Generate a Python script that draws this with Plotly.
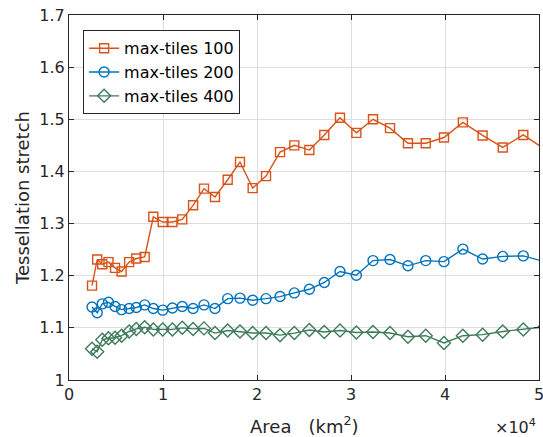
import plotly.graph_objects as go

# Area in km^2
area = [2450, 3000, 3540, 4200, 4900, 5600, 6400, 7160, 8050, 8970, 9970,
        11000, 12050, 13200, 14360, 15530, 16880, 18190, 19540, 20960, 22450,
        23970, 25570, 27160, 28830, 30570, 32340, 34150, 36060, 37950, 39890,
        41900, 44000, 46140, 48330, 50600]

stretch_100 = [1.181, 1.231, 1.222, 1.226, 1.215, 1.208, 1.226, 1.233, 1.236,
               1.313, 1.303, 1.303, 1.308, 1.335, 1.367, 1.351, 1.384, 1.418,
               1.368, 1.391, 1.437, 1.450, 1.441, 1.470, 1.503, 1.474, 1.500,
               1.483, 1.454, 1.454, 1.465, 1.494, 1.469, 1.446, 1.470, 1.443]

stretch_200 = [1.140, 1.129, 1.146, 1.149, 1.141, 1.135, 1.137, 1.139, 1.144,
               1.137, 1.134, 1.138, 1.141, 1.137, 1.144, 1.137, 1.156, 1.157,
               1.153, 1.156, 1.160, 1.167, 1.174, 1.187, 1.208, 1.201, 1.229,
               1.231, 1.219, 1.229, 1.227, 1.251, 1.232, 1.237, 1.238, 1.227]

stretch_400 = [1.060, 1.054, 1.077, 1.080, 1.081, 1.085, 1.093, 1.098, 1.101,
               1.097, 1.097, 1.097, 1.100, 1.098, 1.099, 1.090, 1.095, 1.093,
               1.090, 1.090, 1.086, 1.090, 1.096, 1.092, 1.095, 1.091, 1.092,
               1.090, 1.083, 1.085, 1.071, 1.085, 1.087, 1.093, 1.097, 1.102]

series_names = ["max-tiles 100", "max-tiles 200", "max-tiles 400"]
x_tickvals = [0, 10000, 20000, 30000, 40000, 50000]
x_ticktext = ["0", "1", "2", "3", "4", "5"]
y_tickvals = [1, 1.1, 1.2, 1.3, 1.4, 1.5, 1.6, 1.7]
y_ticktext = ["1", "1.1", "1.2", "1.3", "1.4", "1.5", "1.6", "1.7"]

colors = ["#D95319", "#0072BD", "#3E7B5B"]
symbols = ["square-open", "circle-open", "diamond-open"]
sizes = [9, 10, 10]

fig = go.Figure()
for name, ys, c, s, sz in zip(series_names, [stretch_100, stretch_200, stretch_400], colors, symbols, sizes):
    fig.add_trace(go.Scatter(
        x=area, y=ys, name=name, mode="lines+markers",
        line=dict(color=c, width=1.4),
        marker=dict(symbol=s, size=sz, color=c, line=dict(color=c, width=1.4)),
    ))

axis_common = dict(
    showline=True, linecolor="#262626", linewidth=1, mirror="ticks",
    ticks="inside", ticklen=5, tickcolor="#262626", tickwidth=1,
    showgrid=True, gridcolor="#dedede", gridwidth=1, zeroline=False,
    tickfont=dict(family="DejaVu Sans", size=16, color="#262626"),
    ticklabeloverflow="allow", automargin=False,
)

fig.update_layout(
    width=543, height=437,
    margin=dict(l=69, r=4, t=15, b=57),
    paper_bgcolor="white", plot_bgcolor="white",
    font=dict(family="DejaVu Sans", color="#262626"),
    xaxis=dict(range=[0, 50000], tickvals=x_tickvals, ticktext=x_ticktext,
               **axis_common),
    yaxis=dict(range=[1, 1.7], tickvals=y_tickvals, ticktext=y_ticktext,
               title=dict(text="Tessellation stretch", font=dict(size=18), standoff=5),
               **axis_common),
    legend=dict(x=0.03, y=0.958, xanchor="left", yanchor="top",
                bordercolor="#262626", borderwidth=1, bgcolor="white",
                font=dict(size=16, color="#000000"), itemwidth=30,
                tracegroupgap=0),
    showlegend=True,
)

fig.add_annotation(text="Area   (km<sup>2</sup>)", xref="paper", yref="paper",
                   x=0.5, y=-0.162, xanchor="center", yanchor="bottom", showarrow=False,
                   font=dict(size=18, color="#262626"))

fig.add_annotation(text="\u00d710<sup>4</sup>", xref="paper", yref="paper",
                   x=0.997, y=-0.128, xanchor="right", yanchor="middle", showarrow=False,
                   font=dict(size=16, color="#262626"))

fig.write_html("out.html", config={"displayModeBar": False},
               post_script="document.body.style.margin='0';document.body.style.padding='0';")
